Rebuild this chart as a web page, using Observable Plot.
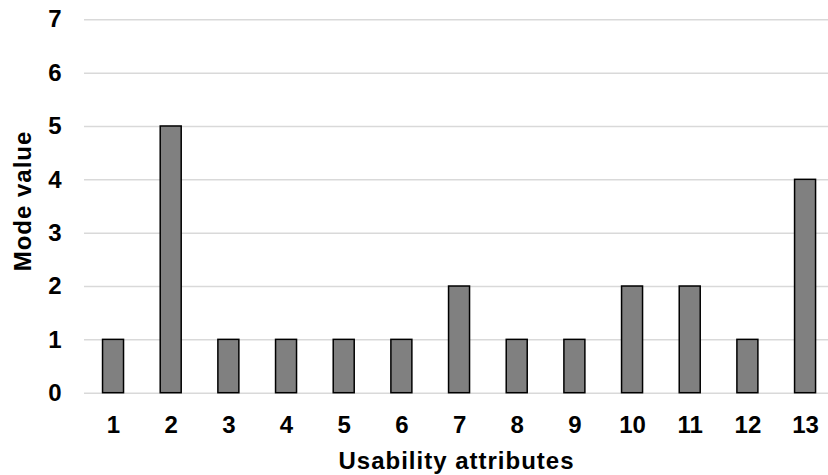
<!DOCTYPE html>
<html>
<head>
<meta charset="utf-8">
<script src="https://cdn.jsdelivr.net/npm/d3@7"></script>
<script src="https://cdn.jsdelivr.net/npm/@observablehq/plot@0.6"></script>
<style>
  html, body { margin: 0; padding: 0; background: #fff; }
  #chart svg { font-family: "Liberation Sans", Arial, sans-serif; }
  #chart svg g.title text { letter-spacing: 1px; }
</style>
</head>
<body>
<div id="chart"></div>
<script>
const attributes = ["1","2","3","4","5","6","7","8","9","10","11","12","13"];
const modeValues = [1, 5, 1, 1, 1, 1, 2, 1, 1, 2, 2, 1, 4];
const yTicks = [0, 1, 2, 3, 4, 5, 6, 7];
const xTitle = "Usability attributes";
const yTitle = "Mode value";

const data = attributes.map((a, i) => ({attr: a, value: modeValues[i]}));

const chart = Plot.plot({
  width: 828,
  height: 475,
  marginLeft: 84,
  marginRight: 0,
  marginTop: 19,
  marginBottom: 82,
  style: {fontFamily: "'Liberation Sans', Arial, sans-serif", fontSize: "24px", fontWeight: "bold", color: "#000", background: "#fff", overflow: "visible"},
  x: {type: "band", domain: attributes, range: [84.2, 833.9], paddingInner: 0.636, paddingOuter: 0.318, round: false},
  y: {domain: [0, 7], range: [392.7, 19.3]},
  marks: [
    Plot.gridY(yTicks, {stroke: "#d9d9d9", strokeOpacity: 1, strokeWidth: 1.5}),
    Plot.barY(data, {x: "attr", y: "value", fill: "#808080", stroke: "#000", strokeWidth: 1.5}),
    Plot.axisY({ticks: yTicks, tickFormat: d3.format("d"), tickSize: 0, tickPadding: 23, fill: "#000", label: null}),
    Plot.axisX({tickSize: 0, tickPadding: 22, fill: "#000", label: null}),
    Plot.text([yTitle], {frameAnchor: "left", textAnchor: "middle", rotate: -90, dx: -61, dy: -5.5, fill: "#000", fontSize: 24, fontWeight: "bold", className: "title"}),
    Plot.text([xTitle], {frameAnchor: "bottom", textAnchor: "middle", lineAnchor: "top", dy: 58, fill: "#000", fontSize: 24, fontWeight: "bold", className: "title"})
  ]
});
document.getElementById("chart").appendChild(chart);
</script>
</body>
</html>
